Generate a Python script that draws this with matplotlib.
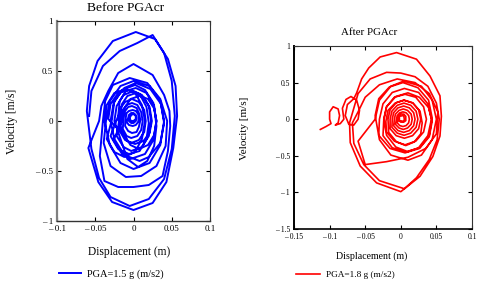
import matplotlib
matplotlib.use("Agg")
import matplotlib.pyplot as plt

plt.rcParams['font.family'] = ['Liberation Serif', 'DejaVu Serif']

# ---------------- data: Before PGAcr (blue) ----------------
disp_before = [
    # loop 2
    -0.058, -0.055, -0.040, -0.018, 0.005, 0.025, 0.040, 0.050, 0.054, 0.050, 0.040, 0.020, -0.005, -0.030, -0.045, -0.055,
    # loop 1 (largest)
    -0.061, -0.058, -0.047, -0.027, 0.003, 0.028, 0.045, 0.055, 0.057, 0.052, 0.043, 0.025, 0.000, -0.028, -0.046, -0.059,
    # loop 3
    -0.045, -0.042, -0.033, -0.020, 0.000, 0.025, 0.040, 0.047, 0.048, 0.045, 0.038, 0.020, 0.000, -0.020, -0.038, -0.044,
    # loop 4
    -0.040, -0.037, -0.027, -0.005, 0.018, 0.035, 0.044, 0.042, 0.030, 0.010, -0.010, -0.030, -0.039,
    # loop 5
    -0.036, -0.031, -0.017, 0.000, 0.021, 0.035, 0.040, 0.035, 0.021, 0.000, -0.017, -0.031,
    # extra loop (left shifted)
    -0.038, -0.035, -0.025, -0.010, 0.002, 0.011, 0.015, 0.011, 0.002, -0.012, -0.025, -0.035,
    # loop 6
    -0.028, -0.025, -0.012, 0.003, 0.022, 0.036, 0.040, 0.035, 0.020, 0.008, -0.012, -0.025,
    # loop 7
    -0.030, -0.026, -0.015, 0.002, 0.015, 0.026, 0.030, 0.026, 0.015, -0.004, -0.015, -0.026,
    # extra loop (right shifted)
    -0.015, -0.012, -0.004, 0.008, 0.019, 0.027, 0.030, 0.027, 0.019, 0.007, -0.004, -0.012,
    # loop 8
    -0.033, -0.030, -0.020, -0.006, 0.008, 0.017, 0.020, 0.017, 0.008, -0.006, -0.020, -0.030,
    # extra loop (deep bottom)
    -0.020, -0.018, -0.010, 0.003, 0.017, 0.027, 0.030, 0.027, 0.018, 0.006, -0.008, -0.017,
    # loop 9
    -0.025, -0.022, -0.013, 0.000, 0.011, 0.020, 0.023, 0.020, 0.011, -0.003, -0.013, -0.022,
    # loop 10
    -0.018, -0.015, -0.008, 0.003, 0.013, 0.021, 0.024, 0.021, 0.013, 0.002, -0.008, -0.015,
    # loop 11
    -0.020, -0.018, -0.011, -0.002, 0.007, 0.014, 0.016, 0.014, 0.007, -0.003, -0.011, -0.018,
    # loop 12
    -0.016, -0.014, -0.009, -0.002, 0.005, 0.010, 0.012, 0.010, 0.005, -0.003, -0.009, -0.014,
    # loop 13
    -0.013, -0.011, -0.007, -0.002, 0.004, 0.007, 0.009, 0.007, 0.004, -0.002, -0.007, -0.011,
    # loop 14
    -0.010, -0.009, -0.006, -0.001, 0.003, 0.006, 0.007, 0.006, 0.003, -0.001, -0.006, -0.009,
    # loop 15
    -0.007, -0.006, -0.003, 0.000, 0.003, 0.004, 0.003, 0.000, -0.003, -0.006,
    # loop 16
    -0.005, -0.003, 0.000, 0.003, 0.003, 0.000, -0.003, -0.005,
]
vel_before = [
    0.05, 0.30, 0.55, 0.70, 0.78, 0.86, 0.68, 0.40, 0.05, -0.28, -0.58, -0.78, -0.85, -0.76, -0.57, -0.28,
    0.10, 0.35, 0.60, 0.80, 0.89, 0.82, 0.62, 0.35, 0.05, -0.27, -0.61, -0.82, -0.89, -0.81, -0.61, -0.27,
    0.00, 0.15, 0.30, 0.48, 0.57, 0.46, 0.26, 0.10, -0.05, -0.30, -0.55, -0.64, -0.66, -0.66, -0.60, -0.35,
    0.00, 0.20, 0.36, 0.43, 0.38, 0.22, 0.00, -0.25, -0.45, -0.55, -0.56, -0.45, -0.22,
    0.00, 0.20, 0.35, 0.40, 0.35, 0.20, 0.00, -0.24, -0.42, -0.48, -0.42, -0.24,
    0.00, 0.16, 0.28, 0.32, 0.28, 0.16, 0.00, -0.18, -0.31, -0.36, -0.31, -0.18,
    0.02, 0.20, 0.33, 0.38, 0.32, 0.17, -0.02, -0.22, -0.36, -0.40, -0.34, -0.18,
    0.00, 0.18, 0.31, 0.36, 0.31, 0.18, 0.00, -0.19, -0.33, -0.38, -0.33, -0.19,
    0.00, 0.125, 0.22, 0.25, 0.22, 0.125, 0.00, -0.14, -0.24, -0.28, -0.24, -0.14,
    0.02, 0.17, 0.28, 0.31, 0.27, 0.14, -0.02, -0.18, -0.30, -0.33, -0.28, -0.15,
    0.05, 0.20, 0.30, 0.33, 0.28, 0.15, -0.05, -0.25, -0.40, -0.46, -0.38, -0.18,
    0.00, 0.15, 0.26, 0.30, 0.26, 0.15, 0.00, -0.15, -0.26, -0.30, -0.26, -0.15,
    0.04, 0.17, 0.25, 0.28, 0.24, 0.14, 0.00, -0.12, -0.20, -0.23, -0.20, -0.10,
    0.02, 0.12, 0.19, 0.22, 0.19, 0.11, 0.00, -0.11, -0.19, -0.22, -0.19, -0.10,
    0.03, 0.11, 0.16, 0.18, 0.16, 0.09, 0.00, -0.09, -0.15, -0.17, -0.15, -0.08,
    0.03, 0.10, 0.14, 0.15, 0.13, 0.08, 0.01, -0.06, -0.11, -0.12, -0.10, -0.05,
    0.04, 0.08, 0.10, 0.11, 0.10, 0.07, 0.03, -0.01, -0.04, -0.05, -0.04, -0.01,
    0.03, 0.06, 0.08, 0.08, 0.06, 0.03, 0.00, -0.02, -0.02, 0.00,
    0.03, 0.06, 0.07, 0.05, 0.02, 0.00, 0.00, 0.02,
]

# ---------------- data: After PGAcr (red) ----------------
disp_after = [
    # tail and small left loops
    -0.113, -0.105, -0.098, -0.100, -0.100, -0.095, -0.088, -0.086, -0.088, -0.092, -0.085,
    -0.080, -0.082, -0.077, -0.070, -0.062, -0.058, -0.060, -0.066, -0.073, -0.078, -0.075, -0.066,
    # big loop 1
    -0.062, -0.055, -0.045, -0.029, -0.006, 0.022, 0.041, 0.055, 0.057, 0.055, 0.045, 0.027, 0.000, -0.034, -0.057, -0.071, -0.072,
    # big loop 2
    -0.066, -0.060, -0.043, -0.020, 0.000, 0.020, 0.038, 0.050, 0.054, 0.051, 0.040, 0.022, 0.005, -0.030, -0.052, -0.066, -0.068,
    # loop 3
    -0.060, -0.050, -0.030, -0.005, 0.020, 0.040, 0.052, 0.050, 0.035, 0.010, -0.020, -0.050, -0.060,
    # cluster rings
    -0.036, -0.030, -0.014, 0.004, 0.029, 0.044, 0.050, 0.044, 0.029, 0.010, -0.014, -0.030,
    -0.036, -0.031, -0.016, 0.003, 0.024, 0.039, 0.044, 0.040, 0.026, 0.006, -0.015, -0.031,
    -0.030, -0.025, -0.012, 0.005, 0.025, 0.038, 0.043, 0.038, 0.025, 0.008, -0.012, -0.025,
    -0.024, -0.020, -0.007, 0.010, 0.026, 0.039, 0.044, 0.040, 0.027, 0.009, -0.007, -0.020,
    -0.024, -0.020, -0.009, 0.006, 0.021, 0.032, 0.036, 0.032, 0.021, 0.006, -0.009, -0.020,
    -0.021, -0.018, -0.008, 0.004, 0.017, 0.027, 0.030, 0.028, 0.019, 0.007, -0.006, -0.017,
    -0.018, -0.015, -0.0065, 0.005, 0.0165, 0.025, 0.028, 0.025, 0.0165, 0.005, -0.0065, -0.015,
    -0.015, -0.0125, -0.005, 0.0045, 0.014, 0.0215, 0.024, 0.0215, 0.014, 0.0045, -0.005, -0.0125,
    -0.012, -0.010, -0.004, 0.004, 0.012, 0.018, 0.020, 0.018, 0.012, 0.004, -0.004, -0.010,
    -0.009, -0.0075, -0.0025, 0.0035, 0.0095, 0.0145, 0.016, 0.0145, 0.0095, 0.0035, -0.0025, -0.0075,
    -0.006, -0.005, -0.0015, 0.003, 0.0075, 0.011, 0.012, 0.011, 0.0075, 0.003, -0.0015, -0.005,
    -0.004, -0.003, 0.000, 0.004, 0.007, 0.007, 0.004, 0.000, -0.003,
    -0.002, -0.002, 0.004, 0.005, 0.004, -0.001,
]
vel_after = [
    -0.14, -0.10, -0.06, 0.00, 0.10, 0.17, 0.14, 0.05, -0.05, -0.08, -0.06,
    0.00, 0.15, 0.27, 0.31, 0.26, 0.12, 0.00, -0.08, -0.07, 0.05, 0.20, 0.28,
    0.36, 0.55, 0.70, 0.85, 0.91, 0.82, 0.59, 0.32, 0.04, -0.23, -0.51, -0.78, -0.99, -0.87, -0.64, -0.32, -0.05,
    0.15, 0.35, 0.55, 0.64, 0.63, 0.58, 0.45, 0.22, 0.00, -0.28, -0.55, -0.80, -0.95, -0.84, -0.62, -0.33, -0.05,
    0.10, 0.30, 0.47, 0.55, 0.50, 0.35, 0.10, -0.20, -0.40, -0.52, -0.58, -0.62, -0.30,
    0.00, 0.26, 0.45, 0.52, 0.45, 0.26, 0.00, -0.28, -0.49, -0.56, -0.49, -0.28,
    0.05, 0.28, 0.44, 0.50, 0.43, 0.26, 0.02, -0.22, -0.40, -0.46, -0.40, -0.22,
    0.00, 0.21, 0.365, 0.42, 0.365, 0.21, 0.00, -0.225, -0.39, -0.45, -0.39, -0.225,
    -0.02, 0.17, 0.31, 0.36, 0.30, 0.16, -0.03, -0.24, -0.39, -0.44, -0.38, -0.22,
    0.00, 0.17, 0.30, 0.34, 0.30, 0.17, 0.00, -0.175, -0.30, -0.35, -0.30, -0.175,
    -0.03, 0.12, 0.22, 0.26, 0.22, 0.11, -0.05, -0.20, -0.31, -0.36, -0.31, -0.18,
    0.00, 0.13, 0.225, 0.26, 0.225, 0.13, 0.00, -0.13, -0.225, -0.26, -0.225, -0.13,
    0.00, 0.11, 0.19, 0.22, 0.19, 0.11, 0.00, -0.11, -0.19, -0.22, -0.19, -0.11,
    0.00, 0.09, 0.155, 0.18, 0.155, 0.09, 0.00, -0.09, -0.155, -0.18, -0.155, -0.09,
    0.00, 0.07, 0.12, 0.14, 0.12, 0.07, 0.00, -0.07, -0.12, -0.14, -0.12, -0.07,
    0.00, 0.05, 0.087, 0.10, 0.087, 0.05, 0.00, -0.05, -0.087, -0.10, -0.087, -0.05,
    0.00, 0.05, 0.07, 0.07, 0.04, -0.02, -0.04, -0.04, -0.02,
    0.00, 0.04, 0.05, 0.00, -0.03, -0.02,
]

# ticks / labels
x_ticks_before = [-0.1, -0.05, 0, 0.05, 0.1]
x_labels_before = ["\u2013 0.1", "\u2013 0.05", "0", "0.05", "0.1"]
y_ticks_before = [-1, -0.5, 0, 0.5, 1]
y_labels_before = ["\u2013 1", "\u2013 0.5", "0", "0.5", "1"]
x_ticks_after = [-0.15, -0.1, -0.05, 0, 0.05, 0.1]
x_labels_after = ["\u2013 0.15", "\u2013 0.1", "\u2013 0.05", "0", "0.05", "0.1"]
y_ticks_after = [-1.5, -1, -0.5, 0, 0.5, 1]
y_labels_after = ["\u2013 1.5", "\u2013 1", "\u2013 0.5", "0", "0.5", "1"]

W, H = 480, 283
fig = plt.figure(figsize=(W / 100, H / 100), dpi=100)


def box(l, t, r, b):
    return [l / W, 1 - b / H, (r - l) / W, (b - t) / H]


ax1 = fig.add_axes(box(57, 21, 210, 221))
ax2 = fig.add_axes(box(294, 46, 472, 229))

ax1.plot(disp_before, vel_before, color='#0000ff', lw=1.4, solid_joinstyle='round',
         label='PGA=1.5 g (m/s2)')
ax2.plot(disp_after, vel_after, color='#ff0000', lw=1.2, solid_joinstyle='round',
         label='PGA=1.8 g (m/s2)')

ax1.set_xlim(-0.1, 0.1)
ax1.set_ylim(-1, 1)
ax2.set_xlim(-0.15, 0.1)
ax2.set_ylim(-1.5, 1)

ax1.set_xticks(x_ticks_before, x_labels_before)
ax1.set_yticks(y_ticks_before, y_labels_before)
ax2.set_xticks(x_ticks_after, x_labels_after)
ax2.set_yticks(y_ticks_after, y_labels_after)

for ax, fs in ((ax1, 6.5), (ax2, 5.5)):
    ax.tick_params(direction='in', length=3, width=0.8, top=True, right=True,
                   labelsize=fs, pad=3, colors='black')
    for s in ax.spines.values():
        s.set_color('#333333')
        s.set_linewidth(0.8)

ax1.spines['left'].set_color('#808080')
ax1.spines['left'].set_linewidth(1.6)
ax1.spines['bottom'].set_linewidth(1.0)
ax2.spines['left'].set_color('black')
ax2.spines['left'].set_linewidth(1.4)
ax2.spines['bottom'].set_color('black')
ax2.spines['bottom'].set_linewidth(1.2)

fig.text(126 / W, 1 - 8 / H, 'Before PGAcr', ha='center', va='center', fontsize=9.7)
fig.text(369 / W, 1 - 33 / H, 'After PGAcr', ha='center', va='center', fontsize=7.8)

fig.text(129 / W, 1 - 252 / H, 'Displacement (m)', ha='center', va='center', fontsize=8.3)
fig.text(372 / W, 1 - 256 / H, 'Displacement (m)', ha='center', va='center', fontsize=7.1)

fig.text(12 / W, 1 - 121 / H, 'Velocity [m/s]', ha='center', va='center', rotation=90, fontsize=8.3)
fig.text(245 / W, 1 - 128 / H, 'Velocity [m/s]', ha='center', va='center', rotation=90, fontsize=8.0)

fig.legend(handles=ax1.get_lines(), loc='center left', bbox_to_anchor=(59 / W, 1 - 274 / H),
           frameon=False, fontsize=7.5, handlelength=2.1, handletextpad=0.6,
           borderpad=0, borderaxespad=0)
fig.legend(handles=ax2.get_lines(), loc='center left', bbox_to_anchor=(296 / W, 1 - 275 / H),
           frameon=False, fontsize=6.7, handlelength=2.6, handletextpad=0.6,
           borderpad=0, borderaxespad=0)

fig.savefig('out.png', dpi=100)
